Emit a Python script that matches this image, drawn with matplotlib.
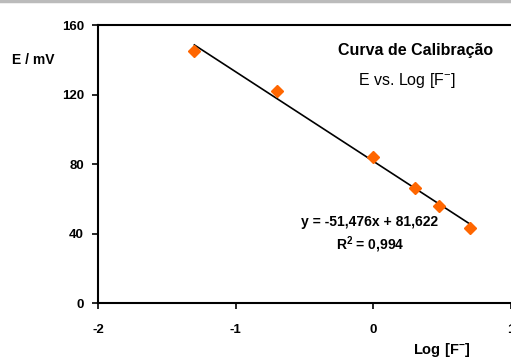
import numpy as np
import matplotlib.pyplot as plt
from matplotlib.lines import Line2D

plt.rcParams['font.family'] = ['Liberation Sans', 'DejaVu Sans']
plt.rcParams['mathtext.fontset'] = 'custom'
plt.rcParams['mathtext.rm'] = 'Liberation Sans'
plt.rcParams['mathtext.bf'] = 'Liberation Sans:bold'
plt.rcParams['axes.unicode_minus'] = False

# data
log_f = [-1.3, -0.7, 0.0, 0.3, 0.48, 0.7]
e_mv = [145, 122, 84, 66, 56, 43]
slope = -51.476
intercept = 81.622
xticks = [-2, -1, 0, 1]
yticks = [0, 40, 80, 120, 160]

fig = plt.figure(figsize=(5.11, 3.58), dpi=100)
ax = fig.add_axes([0.1918, 0.1536, 0.808, 0.7765])

ax.plot(log_f, e_mv, 'D', color='#FF6600', markersize=6, zorder=3)
xf = np.array([min(log_f), max(log_f)])
ax.plot(xf, slope * xf + intercept, color='black', lw=1.2, zorder=2)

ax.set_xlim(-2, 1)
ax.set_ylim(0, 160)
ax.set_xticks(xticks)
ax.set_yticks(yticks)
ax.tick_params(direction='out', length=4, width=1.2, labelsize=9.5)
for lab in ax.get_xticklabels() + ax.get_yticklabels():
    lab.set_fontweight('bold')
ax.tick_params(axis='x', pad=11)
ax.tick_params(axis='y', pad=6)
for s in ['left', 'bottom', 'top']:
    ax.spines[s].set_linewidth(1.5)
ax.spines['right'].set_visible(False)

ax.text(-2.315, 140, 'E / mV', ha='right', va='center',
        fontsize=10, fontweight='bold')
fig.text(0.865, 0.022, r'$\mathbf{Log\ [F^{-}]}$', ha='center', va='center', fontsize=10.5)

ax.text(0.31, 145.6, 'Curva de Calibração', ha='center',
        va='center', fontsize=11.5, fontweight='bold')
ax.text(0.245, 127.8, r'E vs. Log [F$^{-}$]', ha='center',
        va='center', fontsize=11.5)
ax.text(-0.024, 46.6, 'y = -51,476x + 81,622', ha='center', va='center',
        fontsize=10, fontweight='bold')
ax.text(-0.024, 33.4, r'$\mathbf{R^2}$' + ' = 0,994', ha='center', va='center',
        fontsize=10, fontweight='bold')

fig.add_artist(Line2D([0, 1], [0.997, 0.997], color='#bbbbbb', lw=2.5, transform=fig.transFigure))

fig.savefig('out.png', dpi=100)
